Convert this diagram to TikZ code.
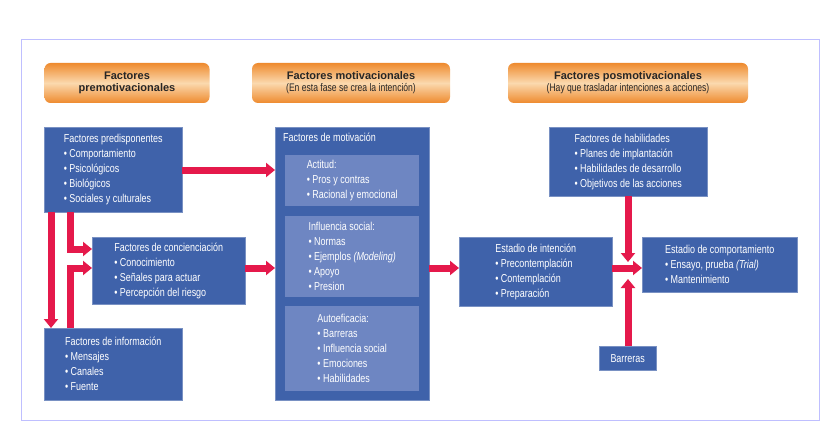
\documentclass[tikz,border=0pt]{standalone}
\usepackage{fontspec}
\setmainfont{Liberation Sans}
\newfontfamily\narrowfont[FakeStretch=0.78]{Liberation Sans}
\usetikzlibrary{arrows.meta,shadings}
\definecolor{boxblue}{HTML}{3F62AA}
\definecolor{innerblue}{HTML}{6E86C2}
\definecolor{linkred}{HTML}{E5194B}
\definecolor{hdrorange}{HTML}{EE8A2E}
\definecolor{hdrlight}{HTML}{FBD9AE}
\newcommand{\itm}{\textbullet\ }
\begin{document}
\begin{tikzpicture}[x=1pt,y=-1pt]
	\tikzstyle{hdr} = [
		rounded corners=6pt, top color=hdrorange, bottom color=hdrorange, middle color=hdrlight,
		minimum height=40pt, font=\fontsize{11}{12}\selectfont\bfseries, align=center, text=black!85
	]
	\tikzstyle{blk} = [
		fill=boxblue, draw=boxblue!70!white, text=white, align=left, anchor=north west,
		font=\narrowfont\fontsize{11.5}{15}\selectfont, inner sep=3pt
	]
	\tikzstyle{inner} = [
		fill=innerblue, anchor=north west
	]
	\tikzstyle{conn} = [
		-{Triangle[length=9pt,width=14pt]}, linkred, line width=7pt
	]

	% background frame
	\fill[white] (0,0) rectangle (840,441);
	\draw[blue!25, line width=1pt] (21,40) rectangle (819,420);

	% Headers
	\node (HdrPre) [hdr, minimum width=165pt] at (127,83) {Factores\\premotivacionales};
	\node (HdrMot) [hdr, minimum width=198pt] at (351,83) {Factores motivacionales\\{\narrowfont\mdseries (En esta fase se crea la intención)}};
	\node (HdrPos) [hdr, minimum width=240pt] at (628,83) {Factores posmotivacionales\\{\narrowfont\mdseries (Hay que trasladar intenciones a acciones)}};

	% Left column
	\node (Predisp) [blk, minimum width=138pt, minimum height=85pt] at (44,127) {Factores predisponentes\\\itm Comportamiento\\\itm Psicológicos\\\itm Biológicos\\\itm Sociales y culturales};
	\node (Concien) [blk, minimum width=153pt, minimum height=67pt] at (92,237) {Factores de concienciación\\\itm Conocimiento\\\itm Señales para actuar\\\itm Percepción del riesgo};
	\node (Inform) [blk, minimum width=138pt, minimum height=72pt] at (44,328) {Factores de información\\\itm Mensajes\\\itm Canales\\\itm Fuente};

	% Motivation
	\node (Motiv) [blk, minimum width=154pt, minimum height=273pt, align=left] at (275,127) {};
	\node (MotivTitle) [blk, fill=none, draw=none] at (280,130) {Factores de motivación};
	\node (Actitud) [blk, inner, minimum width=134pt, minimum height=51pt, draw=none] at (285,155) {Actitud:\\\itm Pros y contras\\\itm Racional y emocional};
	\node (Influ) [blk, inner, minimum width=134pt, minimum height=81pt, draw=none] at (285,216) {Influencia social:\\\itm Normas\\\itm Ejemplos \textit{(Modeling)}\\\itm Apoyo\\\itm Presion};
	\node (Autoef) [blk, inner, minimum width=134pt, minimum height=85pt, draw=none] at (285,306) {Autoeficacia:\\\itm Barreras\\\itm Influencia social\\\itm Emociones\\\itm Habilidades};

	% Post-motivation
	\node (Intenc) [blk, minimum width=153pt, minimum height=69pt] at (459,237) {Estadio de intención\\\itm Precontemplación\\\itm Contemplación\\\itm Preparación};
	\node (Habil) [blk, minimum width=158pt, minimum height=69pt] at (549,127) {Factores de habilidades\\\itm Planes de implantación\\\itm Habilidades de desarrollo\\\itm Objetivos de las acciones};
	\node (Comport) [blk, minimum width=155pt, minimum height=55pt] at (642,237) {Estadio de comportamiento\\\itm Ensayo, prueba \textit{(Trial)}\\\itm Mantenimiento};
	\node (Barr) [blk, minimum width=57pt, minimum height=24pt, align=center] at (599,346) {Barreras};

	% Connectors
	\draw[conn] (Predisp.east |- 0,170) -- (Motiv.west |- 0,170);
	\draw[conn] (Predisp.south -| 51,0) -- (Inform.north -| 51,0);
	\draw[conn, -{Triangle[length=9pt,width=14pt]}] (Predisp.south -| 70,0) -- (70,249) -- (Concien.west |- 0,249);
	\draw[conn] (Inform.north -| 70,0) -- (70,268) -- (Concien.west |- 0,268);
	\draw[conn] (Concien.east |- 0,268) -- (Motiv.west |- 0,268);
	\draw[conn] (Motiv.east |- 0,268) -- (Intenc.west |- 0,268);
	\draw[conn] (Intenc.east |- 0,268) -- (Comport.west |- 0,268);
	\draw[conn] (Habil.south -| 628,0) -- (628,262);
	\draw[conn] (Barr.north -| 628,0) -- (628,279);
\end{tikzpicture}
\end{document}
